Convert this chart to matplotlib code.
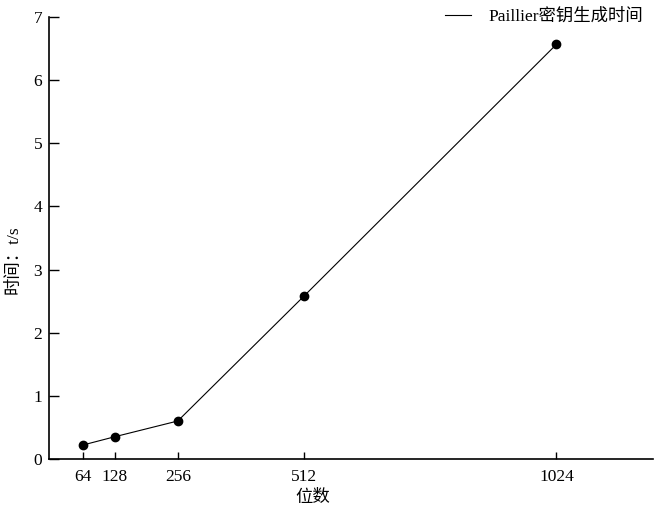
import matplotlib
matplotlib.use('Agg')
import matplotlib.pyplot as plt
from matplotlib.lines import Line2D

# 数据
bits = [64, 128, 256, 512, 1024]
times = [0.22, 0.35, 0.60, 2.58, 6.57]
x_ticks = [64, 128, 256, 512, 1024]
y_ticks = [0, 1, 2, 3, 4, 5, 6, 7]

plt.rcParams['font.family'] = ['Liberation Serif', 'Noto Sans CJK SC']
plt.rcParams['font.size'] = 12

fig = plt.figure(figsize=(6.55, 5.07), dpi=100)
ax = fig.add_axes([0.075, 0.095, 0.922, 0.871])

ax.plot(bits, times, color='black', linewidth=0.8, marker='o', markersize=6)

ax.set_xlim(-5, 1220)
ax.set_ylim(0, 7)
ax.set_xticks(x_ticks)
ax.set_yticks(y_ticks)

ax.spines['top'].set_visible(False)
ax.spines['right'].set_visible(False)
ax.spines['left'].set_linewidth(1.2)
ax.spines['bottom'].set_linewidth(1.2)
ax.tick_params(direction='in', width=1, labelsize=12.5, pad=5)
ax.tick_params(axis='y', length=7)
ax.tick_params(axis='x', length=5, pad=7)

ax.set_xlabel('位数', fontsize=12.5)
ax.xaxis.set_label_coords(0.437, -0.07)
ax.set_ylabel('时间：t/s', fontsize=12.5)
ax.yaxis.set_label_coords(-0.045, 0.45)

# 图例只画线，不画点
handle = Line2D([], [], color='black', linewidth=0.8)
ax.legend([handle], ['Paillier密钥生成时间'], loc='upper right',
          bbox_to_anchor=(1.01, 1.055), frameon=False, fontsize=12.5,
          handlelength=1.5, handletextpad=1.0)

fig.savefig('out.png', dpi=100)
